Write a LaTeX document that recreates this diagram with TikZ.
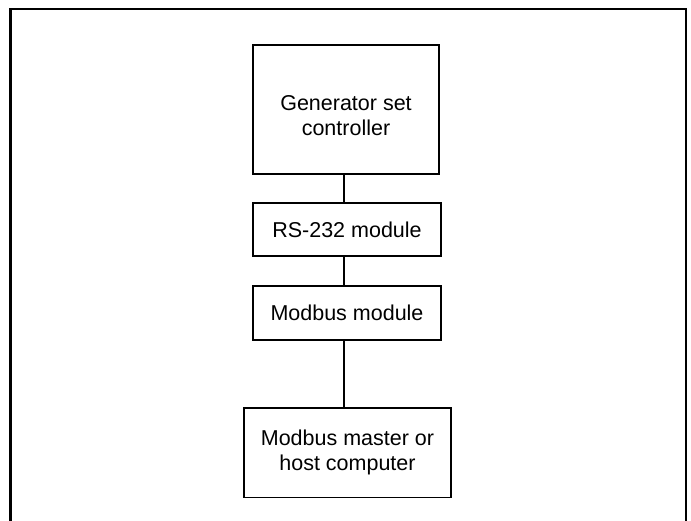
\documentclass[tikz,border=0pt]{standalone}
\usepackage{fontspec}
\setmainfont{Liberation Sans}
\begin{document}
\begin{tikzpicture}[x=1pt,y=1pt,
    unit/.style={draw, line width=1.8pt, align=center, inner sep=0pt,
        font=\fontsize{21.5}{25}\selectfont},
    link/.style={line width=1.8pt}]
    \useasboundingbox (0,0) rectangle (691,521);
    \draw[line width=2.4pt] (10.5,-5) -- (10.5,512) -- (686,512) -- (686,-5);
    \node[unit, minimum width=186pt, minimum height=129pt] (gen) at (346,411.5) {};
    \node[align=center, font=\fontsize{21.5}{25}\selectfont] (gentext) at (346,405) {Generator set\\ controller};
    \node[unit, minimum width=188pt, minimum height=53pt] (rs) at (347,291.5) {RS-232 module};
    \node[unit, minimum width=188pt, minimum height=54pt] (modbus) at (347,208) {Modbus module};
    \node[unit, minimum width=207pt, minimum height=89.5pt] (master) at (347.5,68.25) {Modbus master or\\ host computer};
    \draw[link] (gen.south -| 344,0) -- (rs.north -| 344,0);
    \draw[link] (rs.south -| 344,0) -- (modbus.north -| 344,0);
    \draw[link] (modbus.south -| 344,0) -- (master.north -| 344,0);
\end{tikzpicture}
\end{document}
